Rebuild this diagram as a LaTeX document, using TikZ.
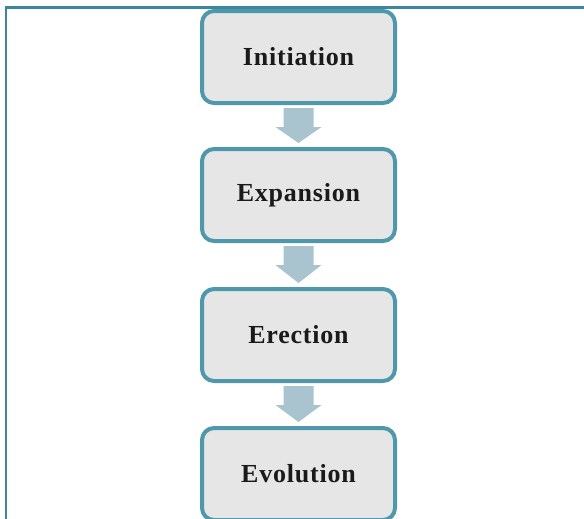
\documentclass[tikz,border=0pt]{standalone}
\usepackage{fontspec}
\setmainfont{Liberation Serif}
\newfontfamily\boxfont[LetterSpace=3]{Liberation Serif}
\usetikzlibrary{calc}
\definecolor{boxborder}{HTML}{4F98AC}
\definecolor{boxfill}{HTML}{E6E6E6}
\definecolor{arrowfill}{HTML}{A9C4CF}
\definecolor{framecol}{HTML}{3B879B}
\definecolor{txt}{HTML}{1A1A1A}
\tikzset{
  stagebox/.style={draw=boxborder, fill=boxfill, line width=3pt, rounded corners=9pt,
    minimum width=144.75pt, minimum height=69pt, outer sep=0pt, inner sep=0pt,
    text=txt, font=\boxfont\bfseries\fontsize{19.5}{22}\selectfont},
  framestyle/.style={draw=framecol, line width=1.7pt},
  arrowstyle/.style={fill=arrowfill, draw=none}
}
\newcommand{\blockarr}[2]{%
  \fill[arrowstyle] ($(#1.south)+(-15,5)$) -- ($(#1.south)+(-15,24)$) -- ($(#1.south)+(-23,24)$)
    -- ($(#2.north)+(0,-6)$) -- ($(#1.south)+(23,24)$) -- ($(#1.south)+(15,24)$)
    -- ($(#1.south)+(15,5)$) -- cycle;}
\begin{document}
\begin{tikzpicture}[x=0.75pt, y=-0.75pt]
\useasboundingbox (0,0) rectangle (584,518);
\clip (0,0) rectangle (584,518);
\fill[white] (0,0) rectangle (584,518);
\coordinate (fbl) at (6,530);
\coordinate (ftl) at (6,7.5);
\coordinate (ftr) at (600,7.5);
\draw[framestyle] (fbl) -- (ftl) -- (ftr);
\node[stagebox] (a) at (298.5,57) {Initiation};
\node[stagebox] (b) at (298.5,195) {Expansion};
\node[stagebox] (c) at (298.5,335) {Erection};
\node[stagebox] (d) at (298.5,474) {Evolution};
\blockarr{a}{b}
\blockarr{b}{c}
\blockarr{c}{d}
\end{tikzpicture}
\end{document}
